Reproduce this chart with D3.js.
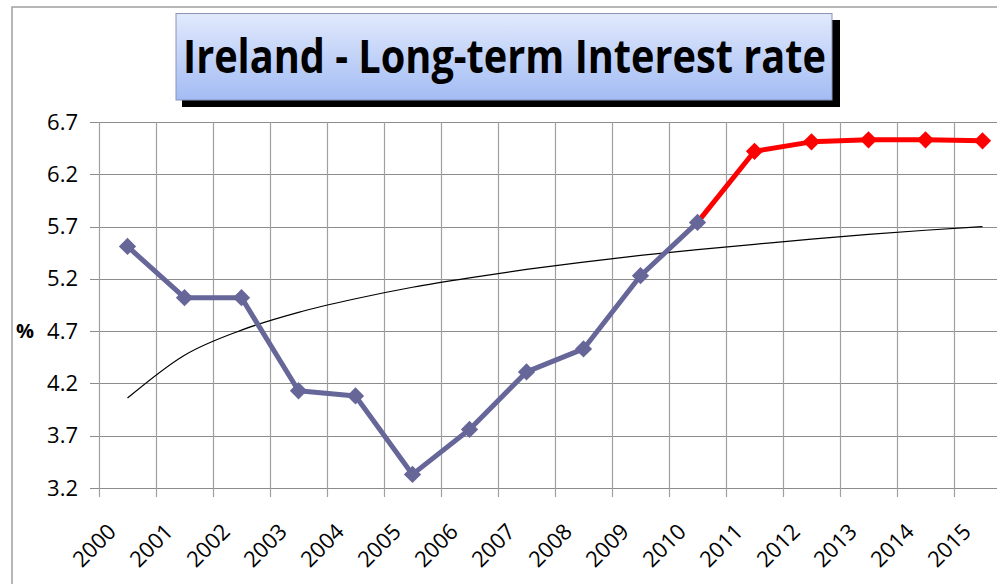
<!DOCTYPE html>
<html>
<head>
<meta charset="utf-8">
<script src="https://cdn.jsdelivr.net/npm/d3@7"></script>
<style>
  body { margin: 0; background: #fff; }
  svg { display: block; }
  text { font-family: "Open Sans", "Noto Sans", sans-serif; }
</style>
</head>
<body>
<div id="chart"></div>
<script>
// data
var years = ["2000","2001","2002","2003","2004","2005","2006","2007",
             "2008","2009","2010","2011","2012","2013","2014","2015"];
var actual = [5.51, 5.02, 5.02, 4.13, 4.08, 3.33, 3.76, 4.31, 4.53, 5.23, 5.74];
// forecast starts from the 2010 point
var forecastYears = ["2010","2011","2012","2013","2014","2015"];
var forecast = [5.74, 6.42, 6.51, 6.53, 6.53, 6.52];
// thin black trend curve, read at each year
var trend = [4.06, 4.47, 4.71, 4.88, 5.01, 5.12, 5.21, 5.29,
             5.36, 5.425, 5.48, 5.53, 5.58, 5.625, 5.665, 5.70];
var yTicks = [3.2, 3.7, 4.2, 4.7, 5.2, 5.7, 6.2, 6.7];
var title = "Ireland - Long-term Interest rate";

(function () {

  var W = 997, H = 584;
  var plot = { left: 99, right: 1011, top: 122, bottom: 488 };

  var svg = d3.select("#chart")
    .append("svg")
    .attr("width", W)
    .attr("height", H);

  //outer frame
  svg.append("rect")
    .attr("x", 12).attr("y", 7)
    .attr("width", W + 20).attr("height", H + 20)
    .attr("fill", "#fff")
    .attr("stroke", "#a0a0a0")
    .attr("stroke-width", 1.5);

  //scales
  var x = d3.scaleBand()
    .domain(years)
    .range([plot.left, plot.right])
    .padding(0);

  var y = d3.scaleLinear()
    .domain([3.2, 6.7])
    .range([plot.bottom, plot.top]);

  var cx = function (d) { return x(d) + x.bandwidth() / 2; };

  //grid - horizontal
  svg.append("g")
    .selectAll("line")
    .data(yTicks)
    .enter().append("line")
    .attr("x1", plot.left - 9).attr("x2", plot.right)
    .attr("y1", function (d) { return Math.round(y(d)) + 0.5; })
    .attr("y2", function (d) { return Math.round(y(d)) + 0.5; })
    .attr("stroke", "#8c8c8c")
    .attr("stroke-width", 1.2);

  //grid - vertical (band edges)
  var edges = years.map(function (d) { return x(d); }).concat([plot.right]);
  svg.append("g")
    .selectAll("line")
    .data(edges)
    .enter().append("line")
    .attr("x1", function (d) { return Math.round(d) + 0.5; })
    .attr("x2", function (d) { return Math.round(d) + 0.5; })
    .attr("y1", plot.top)
    .attr("y2", plot.bottom + 9)
    .attr("stroke", "#a0a0a0")
    .attr("stroke-width", 1.2);

  //y axis labels
  var yAxis = d3.axisLeft(y)
    .tickValues(yTicks)
    .tickSize(0)
    .tickPadding(21)
    .tickFormat(d3.format(".1f"));
  var yg = svg.append("g")
    .attr("transform", "translate(" + plot.left + ",0)")
    .call(yAxis);
  yg.select(".domain").remove();
  yg.selectAll("text")
    .attr("font-size", 22)
    .attr("fill", "#000")
    .style("font-family", "'Open Sans', 'Noto Sans', sans-serif");

  svg.append("text")
    .attr("x", 25).attr("y", y(4.7) + 7)
    .attr("text-anchor", "middle")
    .attr("font-size", 20)
    .attr("font-weight", "bold")
    .text("%");

  //x axis labels
  var xAxis = d3.axisBottom(x).tickSize(0).tickPadding(0);
  var xg = svg.append("g")
    .attr("transform", "translate(0," + plot.bottom + ")")
    .call(xAxis);
  xg.select(".domain").remove();
  xg.selectAll("text")
    .attr("font-size", 22)
    .attr("fill", "#000")
    .attr("text-anchor", "end")
    .attr("dy", 0)
    .attr("y", 0)
    .attr("transform", "translate(-10,45) rotate(-45)")
    .style("font-family", "'Open Sans', 'Noto Sans', sans-serif");

  //trend line
  var trendLine = d3.line()
    .x(function (d, i) { return cx(years[i]); })
    .y(function (d) { return y(d); })
    .curve(d3.curveMonotoneX);
  svg.append("path")
    .datum(trend)
    .attr("d", trendLine)
    .attr("fill", "none")
    .attr("stroke", "#000")
    .attr("stroke-width", 1.2);

  var diamond = d3.symbol().type(d3.symbolDiamond2).size(190);

  //forecast (red)
  var redLine = d3.line()
    .x(function (d, i) { return cx(forecastYears[i]); })
    .y(function (d) { return y(d); });
  svg.append("path")
    .datum(forecast)
    .attr("d", redLine)
    .attr("fill", "none")
    .attr("stroke", "#ff0000")
    .attr("stroke-width", 5)
    .attr("stroke-linejoin", "round");
  svg.selectAll(".red-pt")
    .data(forecast.slice(1))
    .enter().append("path")
    .attr("class", "red-pt")
    .attr("d", diamond)
    .attr("fill", "#ff0000")
    .attr("transform", function (d, i) {
      return "translate(" + cx(forecastYears[i + 1]) + "," + y(d) + ")";
    });

  //actual (blue)
  var blueLine = d3.line()
    .x(function (d, i) { return cx(years[i]); })
    .y(function (d) { return y(d); });
  svg.append("path")
    .datum(actual)
    .attr("d", blueLine)
    .attr("fill", "none")
    .attr("stroke", "#666699")
    .attr("stroke-width", 5)
    .attr("stroke-linejoin", "round");
  svg.selectAll(".blue-pt")
    .data(actual)
    .enter().append("path")
    .attr("class", "blue-pt")
    .attr("d", diamond)
    .attr("fill", "#666699")
    .attr("transform", function (d, i) {
      return "translate(" + cx(years[i]) + "," + y(d) + ")";
    });

  //title box
  var defs = svg.append("defs");
  var grad = defs.append("linearGradient")
    .attr("id", "titleGrad")
    .attr("x1", 0).attr("y1", 0).attr("x2", 0).attr("y2", 1);
  grad.append("stop").attr("offset", "0%").attr("stop-color", "#e1e9fc");
  grad.append("stop").attr("offset", "100%").attr("stop-color", "#a3bcf4");

  svg.append("rect")
    .attr("x", 182).attr("y", 20)
    .attr("width", 658).attr("height", 87)
    .attr("fill", "#000");
  svg.append("rect")
    .attr("x", 176).attr("y", 13.5)
    .attr("width", 656).attr("height", 86.5)
    .attr("fill", "url(#titleGrad)")
    .attr("stroke", "#8a94b8")
    .attr("stroke-width", 1);

  svg.append("text")
    .attr("x", 504.5).attr("y", 73)
    .attr("text-anchor", "middle")
    .attr("font-size", 46)
    .attr("font-weight", "bold")
    .attr("textLength", 643)
    .attr("lengthAdjust", "spacingAndGlyphs")
    .text(title);

})();
</script>
</body>
</html>
